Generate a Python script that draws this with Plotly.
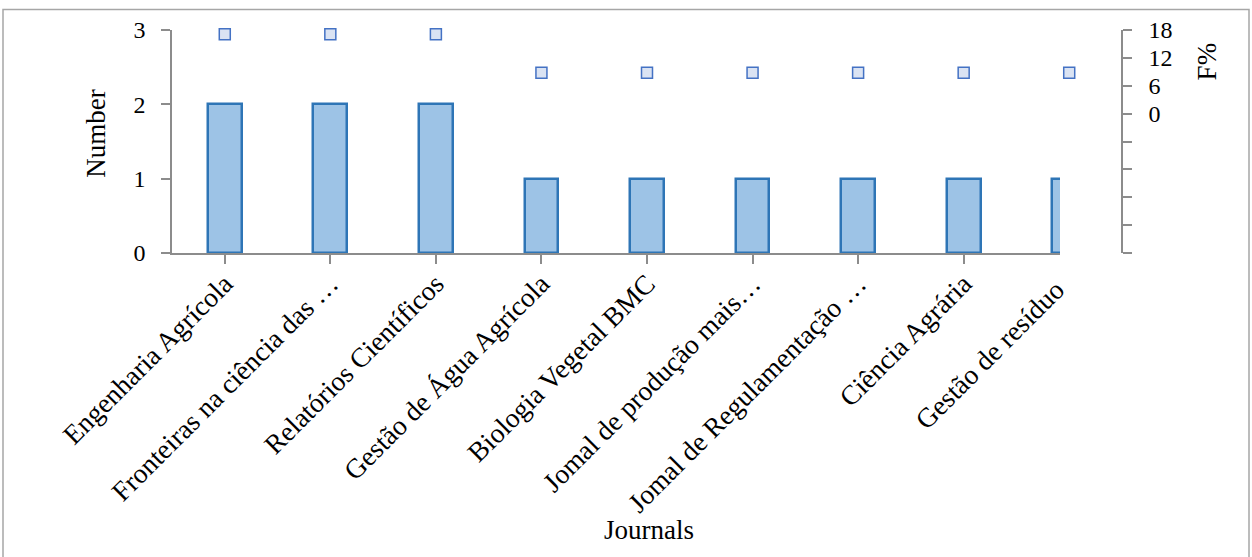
import plotly.graph_objects as go

categories = [
    "Engenharia Agrícola",
    "Fronteiras na ciência das …",
    "Relatórios Científicos",
    "Gestão de Água Agrícola",
    "Biologia Vegetal BMC",
    "Jomal de produção mais…",
    "Jomal de Regulamentação …",
    "Ciência Agrária",
    "Gestão de resíduo",
]
number = [2, 2, 2, 1, 1, 1, 1, 1, 1]
f_percent = [17.1, 17.1, 17.1, 8.8, 8.8, 8.8, 8.8, 8.8, 8.8]
left_ticks = [0, 1, 2, 3]
right_tickvals = [18, 12, 6, 0, -6, -12, -18, -24, -30]
right_ticktext = ["18", "12", "6", "0", "", "", "", "", ""]

W, H = 1252, 557
L, R, T, B = 172, 130, 29.5, 303.7
PW = W - L - R
PH = H - T - B

def px_x(x):
    return (x - L) / PW

def px_y(y):
    return 1 - (y - T) / PH

FONT = "Liberation Serif, Times New Roman, serif"
AXC = "#8c8c8c"
NUM_SIZE = 24
CAT_SIZE = 27.5
TITLE_SIZE = 27

xs = list(range(len(categories)))
cat_w = PW / len(categories)
clip_px = 1060
x_end = -0.5 + (clip_px - L) / cat_w

fig = go.Figure()
fig.add_trace(go.Bar(
    x=xs, y=number, width=0.32,
    marker=dict(color="#9DC3E6", line=dict(color="#2E75B6", width=2.5)),
    xaxis="x", yaxis="y", showlegend=False,
))
fig.add_trace(go.Scatter(
    x=xs, y=f_percent, mode="markers", xaxis="x2", yaxis="y2",
    cliponaxis=False,
    marker=dict(symbol="square", size=11, color="#DAE3F3",
                line=dict(color="#4472C4", width=1.5)),
    showlegend=False,
))

# label for the clipped last category
last_center_px = L + (len(categories) - 0.5) * cat_w
fig.add_annotation(
    x=px_x(last_center_px + 4), y=0, xref="paper", yref="paper",
    text=categories[-1],
    textangle=-45, showarrow=False, xanchor="right", yanchor="top",
    yshift=-18,
    font=dict(family=FONT, size=CAT_SIZE, color="black"),
)

fig.add_annotation(x=px_x(96.5), y=px_y(134), xref="paper", yref="paper",
                   text="Number", textangle=-90, showarrow=False,
                   xanchor="center", yanchor="middle",
                   font=dict(family=FONT, size=TITLE_SIZE, color="black"))
fig.add_annotation(x=px_x(649), y=px_y(531), xref="paper", yref="paper",
                   text="Journals", showarrow=False,
                   xanchor="center", yanchor="middle",
                   font=dict(family=FONT, size=TITLE_SIZE, color="black"))
fig.add_annotation(x=px_x(1207), y=px_y(61), xref="paper", yref="paper",
                   text="F%", textangle=-90, showarrow=False,
                   xanchor="center", yanchor="middle",
                   font=dict(family=FONT, size=TITLE_SIZE, color="black"))

fig.add_shape(type="rect", xref="paper", yref="paper",
              x0=px_x(3), x1=px_x(1249), y0=px_y(570), y1=px_y(9),
              line=dict(color="#a6a6a6", width=1.5), layer="below")

fig.update_layout(
    width=W, height=H,
    margin=dict(l=L, r=R, t=T, b=B, pad=0),
    paper_bgcolor="white", plot_bgcolor="rgba(0,0,0,0)",
    font=dict(family=FONT, size=NUM_SIZE, color="black"),
    bargap=0,
    xaxis=dict(
        domain=[0, px_x(clip_px)],
        range=[-0.5, x_end],
        tickmode="array", tickvals=xs[:-1], ticktext=categories[:-1],
        tickangle=-45, tickfont=dict(family=FONT, size=CAT_SIZE, color="black"),
        ticklabelstandoff=-7, ticklabelshift=0,
        showline=True, linecolor=AXC, linewidth=1.5,
        ticks="outside", ticklen=9, tickcolor=AXC, tickwidth=1.5,
        showgrid=False, zeroline=False, automargin=False,
        anchor="y",
    ),
    xaxis2=dict(
        domain=[0, 1], range=[-0.5, len(categories) - 0.5],
        visible=False, anchor="y2", showgrid=False, zeroline=False,
    ),
    yaxis=dict(
        range=[0, 3], tickvals=left_ticks,
        showline=True, linecolor=AXC, linewidth=1.5,
        ticks="outside", ticklen=9, tickcolor=AXC, tickwidth=1.5,
        showgrid=False, zeroline=False, automargin=False,
        tickfont=dict(family=FONT, size=NUM_SIZE, color="black"),
        ticklabelstandoff=11,
    ),
    yaxis2=dict(
        overlaying="y", side="right", anchor="free", position=1.0,
        range=[-30, 18], tickmode="array",
        tickvals=right_tickvals, ticktext=right_ticktext,
        showline=True, linecolor=AXC, linewidth=1.5,
        ticks="outside", ticklen=9, tickcolor=AXC, tickwidth=1.5,
        showgrid=False, zeroline=False, automargin=False,
        tickfont=dict(family=FONT, size=NUM_SIZE, color="black"),
        ticklabelstandoff=12,
    ),
)

fig.write_html(
    "out.html",
    config={"displayModeBar": False},
    post_script="document.body.style.margin='0';document.body.style.padding='0';",
)
